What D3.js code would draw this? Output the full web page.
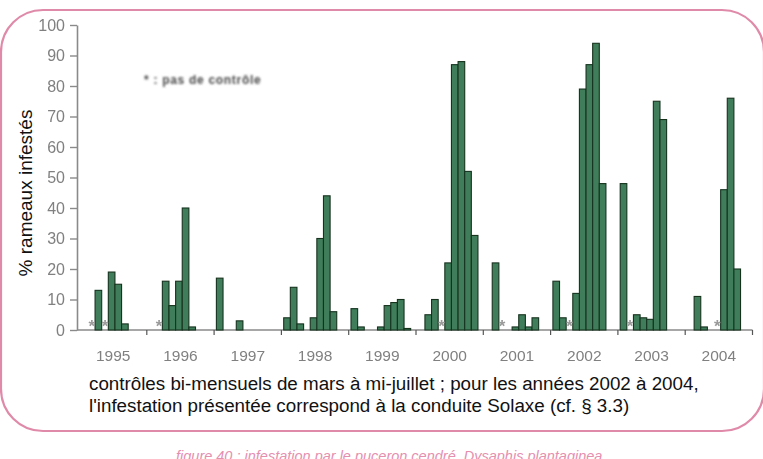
<!DOCTYPE html>
<html>
<head>
<meta charset="utf-8">
<script src="https://cdn.jsdelivr.net/npm/d3@7"></script>
<style>
  body { margin: 0; background: #fff; }
  svg { display: block; }
</style>
</head>
<body>
<svg id="chart" width="763" height="459"></svg>
<script>
// Fortnightly controls, March to mid-July: ten slots per year.
const years = ["1995", "1996", "1997", "1998", "1999", "2000", "2001", "2002", "2003", "2004"];
const slots = [0, 1, 2, 3, 4, 5, 6, 7, 8, 9];

// % of infested shoots per control (null = no bar drawn)
const v1995 = [null, null, 13, null, 19, 15, 2, null, null, null];
const v1996 = [null, null, 16, 8, 16, 40, 1, null, null, null];
const v1997 = [17, null, null, 3, null, null, null, null, null, null];
const v1998 = [4, 14, 2, null, 4, 30, 44, 6, null, null];
const v1999 = [7, 1, null, null, 1, 8, 9, 10, 0.5, null];
const v2000 = [null, 5, 10, null, 22, 87, 88, 52, 31, null];
const v2001 = [null, 22, null, null, 1, 5, 1, 4, null, null];
const v2002 = [16, 4, null, 12, 79, 87, 94, 48, null, null];
const v2003 = [48, null, 5, 4, 3.5, 75, 69, null, null, null];
const v2004 = [null, 11, 1, null, null, 46, 76, 20, null, null];
const valuesByYear = [v1995, v1996, v1997, v1998, v1999, v2000, v2001, v2002, v2003, v2004];

// Controls that were not carried out: [year, slot]
const noControl = [["1995", 1], ["1995", 3], ["1996", 1], ["2000", 3], ["2001", 2], ["2002", 2], ["2003", 1], ["2004", 4]];

const yTicks = [0, 10, 20, 30, 40, 50, 60, 70, 80, 90, 100];

const yLabel = "% rameaux infestés";
const legendText = "* : pas de contrôle";
const captionLines = [
  "contrôles bi-mensuels de mars à mi-juillet ; pour les années 2002 à 2004,",
  "l'infestation présentée correspond à la conduite Solaxe (cf. § 3.3)"
];
const figureTitle = "figure 40 : infestation par le puceron cendré, ";
const figureSpecies = "Dysaphis plantaginea";

// ---- layout ----
const svg = d3.select("#chart");
const axisX = 77;
const x = d3.scaleBand().domain(years).range([79.5, 752.5]).padding(0);
const xs = d3.scaleBand().domain(slots).range([2.3, 2.3 + x.bandwidth() * 0.985]).padding(0);
const y = d3.scaleLinear().domain([0, 100]).range([330, 25]);

const defs = svg.append("defs");
defs.append("filter").attr("id", "soft").attr("x", "-5%").attr("y", "-5%").attr("width", "110%").attr("height", "110%")
  .append("feGaussianBlur").attr("stdDeviation", 0.55);
defs.append("filter").attr("id", "softer").attr("x", "-10%").attr("y", "-50%").attr("width", "120%").attr("height", "200%")
  .append("feGaussianBlur").attr("stdDeviation", 0.9);

// pink rounded frame
svg.append("rect")
  .attr("x", 1).attr("y", 10).attr("width", 763).attr("height", 421)
  .attr("rx", 42).attr("ry", 42)
  .attr("fill", "none").attr("stroke", "#e08aa9").attr("stroke-width", 2.2);

const plot = svg.append("g").attr("filter", "url(#soft)");

// y axis
const yAxis = plot.append("g")
  .attr("transform", `translate(${axisX},0)`)
  .call(d3.axisLeft(y).tickValues(yTicks).tickSize(7).tickSizeOuter(0).tickPadding(5));
yAxis.select(".domain").attr("stroke", "#8a8a8a").attr("stroke-width", 1.6);
yAxis.selectAll(".tick line").attr("stroke", "#8a8a8a").attr("stroke-width", 1.4);
yAxis.selectAll(".tick text")
  .attr("fill", "#808080")
  .style("font-family", "Arial, 'Liberation Sans', sans-serif")
  .style("font-size", "16px");

// x axis: baseline, year boundary ticks, year labels
const xAxis = plot.append("g").attr("transform", `translate(0,${y(0)})`);
xAxis.append("line")
  .attr("x1", axisX).attr("x2", x.range()[1])
  .attr("stroke", "#8a8a8a").attr("stroke-width", 1.6);
const boundaries = years.map(d => x(d)).concat([x.range()[1]]);
xAxis.selectAll("line.bound").data(boundaries.slice(1)).join("line")
  .attr("class", "bound")
  .attr("x1", d => d).attr("x2", d => d)
  .attr("y1", 0).attr("y2", 5)
  .attr("stroke", "#555").attr("stroke-width", 1.2);
const xLabels = d3.axisBottom(x).tickSize(0).tickPadding(0);
const xl = plot.append("g").attr("transform", `translate(0,${y(0)})`).call(xLabels);
xl.select(".domain").remove();
xl.selectAll(".tick text")
  .attr("y", 31).attr("dy", 0)
  .attr("fill", "#808080")
  .style("font-family", "Arial, 'Liberation Sans', sans-serif")
  .style("font-size", "15.5px");

// bars
const barData = [];
years.forEach((yr, i) => {
  valuesByYear[i].forEach((v, k) => {
    if (v !== null) barData.push({ year: yr, slot: k, value: v });
  });
});
plot.append("g").selectAll("rect").data(barData).join("rect")
  .attr("x", d => x(d.year) + xs(d.slot))
  .attr("y", d => y(d.value))
  .attr("width", xs.bandwidth())
  .attr("height", d => y(0) - y(d.value))
  .attr("fill", "#3f7d5a")
  .attr("stroke", "#17331f")
  .attr("stroke-width", 1.1);

// no-control markers
plot.append("g").selectAll("text").data(noControl).join("text")
  .attr("x", d => x(d[0]) + xs(d[1]) + xs.bandwidth() / 2)
  .attr("y", y(0) + 1.5)
  .attr("text-anchor", "middle")
  .attr("fill", "#9a9a9a")
  .style("font-family", "Arial, 'Liberation Sans', sans-serif")
  .style("font-weight", "bold")
  .style("font-size", "17px")
  .text("*");

// legend note
svg.append("text")
  .attr("x", 144).attr("y", 84)
  .attr("fill", "#4a4a4a")
  .attr("filter", "url(#softer)")
  .style("font-family", "Arial, 'Liberation Sans', sans-serif")
  .style("font-weight", "bold")
  .style("font-size", "12px")
  .style("letter-spacing", "0.7px")
  .text(legendText);

// y axis title
svg.append("text")
  .attr("transform", "translate(32,193) rotate(-90)")
  .attr("text-anchor", "middle")
  .attr("fill", "#111")
  .style("font-family", "Arial, 'Liberation Sans', sans-serif")
  .style("font-size", "19px")
  .text(yLabel);

// caption
svg.append("g").selectAll("text").data(captionLines).join("text")
  .attr("x", 89)
  .attr("y", (d, i) => 390 + i * 22)
  .attr("fill", "#111")
  .style("font-family", "Arial, 'Liberation Sans', sans-serif")
  .style("font-size", "18.8px")
  .text(d => d);

// figure title (partly below the visible area)
const ft = svg.append("text")
  .attr("x", 176).attr("y", 461)
  .attr("fill", "#e58fb0")
  .style("font-family", "Arial, 'Liberation Sans', sans-serif")
  .style("font-size", "14.5px")
  .style("font-style", "italic");
ft.append("tspan").text(figureTitle);
ft.append("tspan").text(figureSpecies);
</script>
</body>
</html>
